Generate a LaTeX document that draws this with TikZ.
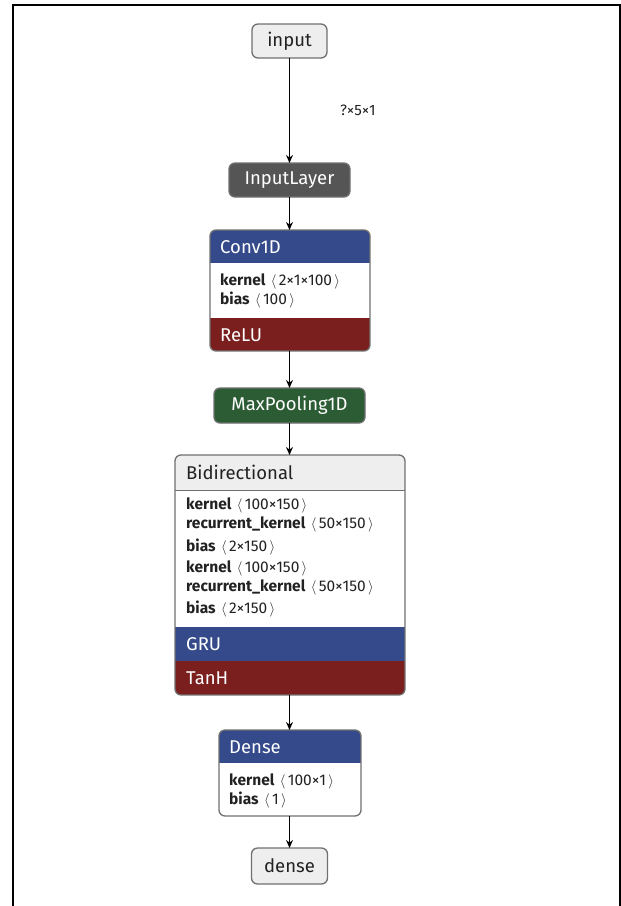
\documentclass[tikz,border=0pt]{standalone}
\usepackage{fontspec}
\setmainfont{Fira Sans}
\usetikzlibrary{arrows.meta}
\definecolor{hdrblue}{HTML}{344A8A}
\definecolor{actred}{HTML}{7A1E1E}
\definecolor{poolgreen}{HTML}{2B5C34}
\definecolor{inpgray}{HTML}{555555}
\definecolor{lightfill}{HTML}{EEEEEE}
\definecolor{edgegray}{HTML}{707070}
\definecolor{txt}{HTML}{222222}
\tikzset{
  frameline/.style={draw=black, line width=1.1pt},
  area/.style={inner sep=0pt, outer sep=0pt},
  boxline/.style={draw=edgegray, line width=1.3pt, rounded corners=6pt},
  smallbox/.style={boxline, inner sep=0pt, outer sep=0pt, font=\fontsize{18.5}{22}\selectfont},
  titletext/.style={anchor=west, inner sep=0pt, font=\fontsize{18.5}{22}\selectfont},
  paramtext/.style={anchor=west, inner sep=0pt, text=txt, font=\fontsize{15.5}{18}\selectfont},
  conn/.style={-{Stealth[length=8pt,width=7pt]}, line width=1.1pt, draw=black},
}
\newcommand\prm[2]{\textbf{#1}\hspace{0.35em}$\langle$\hspace{0.15em}#2\hspace{0.15em}$\rangle$}
\begin{document}
\begin{tikzpicture}[x=1pt,y=-1pt]
\useasboundingbox (0,0) rectangle (621,906);
% frame
\draw[frameline] (13,906) -- (13,5) -- (620,5) -- (620,906);

% small nodes
\node[smallbox, fill=lightfill, text=txt, minimum width=75pt, minimum height=34pt] (input) at (289.5,41) {input};
\node[smallbox, fill=inpgray, text=white, minimum width=121pt, minimum height=34pt] (inlayer) at (289.5,180) {InputLayer};
\node[smallbox, fill=poolgreen, text=white, minimum width=151pt, minimum height=35pt] (pool) at (289.5,405.5) {MaxPooling1D};
\node[smallbox, fill=lightfill, text=txt, minimum width=76pt, minimum height=36pt] (dense) at (289.5,866) {dense};

% Conv1D box: 210-370, 230-351
\node[area, minimum width=160pt, minimum height=121pt] (conv) at (290,290.5) {};
\begin{scope}
\clip[rounded corners=6pt] (conv.north west) rectangle (conv.south east);
\fill[hdrblue] (conv.north west) rectangle (370,263);
\fill[white] (210,263) rectangle (370,318);
\fill[actred] (210,318) rectangle (conv.south east);
\end{scope}
\draw[boxline] (conv.north west) rectangle (conv.south east);
\node[titletext, text=white] (convt) at (220,247) {Conv1D};
\node[paramtext] (convp1) at (220,281) {\prm{kernel}{2×1×100}};
\node[paramtext] (convp2) at (220,300) {\prm{bias}{100}};
\node[titletext, text=white] (convr) at (220,335) {ReLU};

% Bidirectional box: 175-405, 455-695
\node[area, minimum width=230pt, minimum height=240pt] (bidir) at (290,575) {};
\begin{scope}
\clip[rounded corners=6pt] (bidir.north west) rectangle (bidir.south east);
\fill[lightfill] (bidir.north west) rectangle (405,490);
\fill[white] (175,490) rectangle (405,627);
\fill[hdrblue] (175,627) rectangle (405,661);
\fill[actred] (175,661) rectangle (bidir.south east);
\end{scope}
\draw[edgegray, line width=1pt] (175,490) -- (405,490);
\draw[boxline] (bidir.north west) rectangle (bidir.south east);
\node[titletext, text=txt] (bidt) at (186,472) {Bidirectional};
\node[paramtext] (bp1) at (186,505) {\prm{kernel}{100×150}};
\node[paramtext] (bp2) at (186,524) {\prm{recurrent\_kernel}{50×150}};
\node[paramtext] (bp3) at (186,547) {\prm{bias}{2×150}};
\node[paramtext] (bp4) at (186,568) {\prm{kernel}{100×150}};
\node[paramtext] (bp5) at (186,587) {\prm{recurrent\_kernel}{50×150}};
\node[paramtext] (bp6) at (186,609) {\prm{bias}{2×150}};
\node[titletext, text=white] (bgru) at (186,644) {GRU};
\node[titletext, text=white] (btanh) at (186,678) {TanH};

% Dense box: 219-361, 730-816
\node[area, minimum width=142pt, minimum height=86pt] (dbox) at (290,773) {};
\begin{scope}
\clip[rounded corners=6pt] (dbox.north west) rectangle (dbox.south east);
\fill[hdrblue] (dbox.north west) rectangle (361,763);
\fill[white] (219,763) rectangle (dbox.south east);
\end{scope}
\draw[boxline] (dbox.north west) rectangle (dbox.south east);
\node[titletext, text=white] (dt) at (229,747) {Dense};
\node[paramtext] (dp1) at (229,781) {\prm{kernel}{100×1}};
\node[paramtext] (dp2) at (229,800) {\prm{bias}{1}};

% connectors
\draw[conn] (input.south) -- node[right=50pt, pos=0.5, inner sep=0pt, text=txt, font=\fontsize{15}{18}\selectfont] {?×5×1} (inlayer.north);
\draw[conn] (inlayer.south) -- (inlayer.south |- conv.north);
\draw[conn] (conv.south -| pool.north) -- (pool.north);
\draw[conn] (pool.south) -- (pool.south |- bidir.north);
\draw[conn] (bidir.south -| dense.north) -- (dense.north |- dbox.north);
\draw[conn] (dbox.south -| dense.north) -- (dense.north);
\end{tikzpicture}
\end{document}
